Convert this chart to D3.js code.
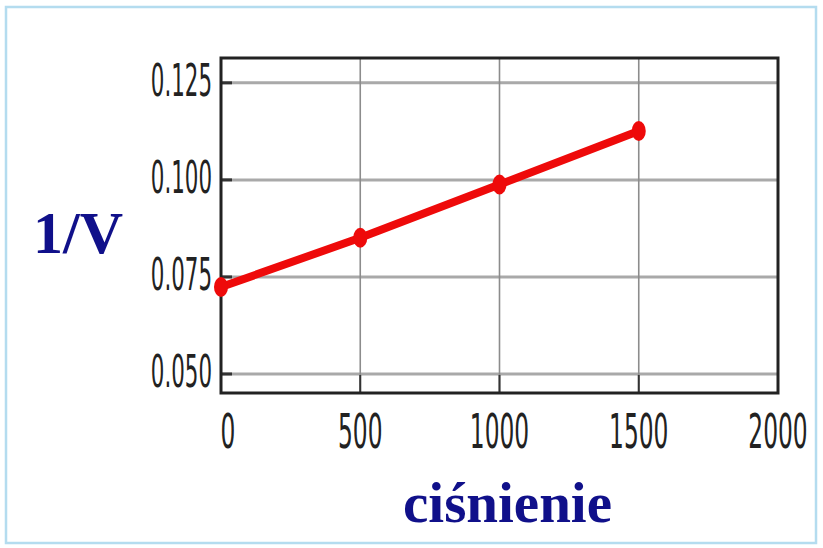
<!DOCTYPE html>
<html>
<head>
<meta charset="utf-8">
<script src="https://cdn.jsdelivr.net/npm/d3@7"></script>
<style>
  html, body { margin: 0; padding: 0; background: #fff; }
  svg { display: block; }
</style>
</head>
<body>
<svg id="chart" width="823" height="548"></svg>
<script>
// data
const pressure = [0, 500, 1000, 1500];
const invVolume = [0.0724, 0.0851, 0.0988, 0.1126];
const xTicks = [0, 500, 1000, 1500, 2000];
const yTicks = [0.050, 0.075, 0.100, 0.125];
const yTickLabels = ["0.050", "0.075", "0.100", "0.125"];

const svg = d3.select("#chart");
const plotL = 221, plotR = 778, plotT = 58, plotB = 393;
const sx = 0.54; // squeeze for the narrow tick font

// outer slide frame
svg.append("rect")
  .attr("x", 6).attr("y", 7)
  .attr("width", 810).attr("height", 536)
  .attr("fill", "#fff")
  .attr("stroke", "#b4dcef")
  .attr("stroke-width", 2.5);

const x = d3.scaleLinear().domain([0, 2000]).range([plotL, plotR]);
const y = d3.scaleLinear().domain([0.0451, 0.1314]).range([plotB, plotT]);

// grid
svg.append("g")
  .selectAll("line")
  .data(yTicks)
  .join("line")
  .attr("x1", plotL).attr("x2", plotR)
  .attr("y1", d => y(d)).attr("y2", d => y(d))
  .attr("stroke", "#a9a9a9")
  .attr("stroke-width", 3);

svg.append("g")
  .selectAll("line")
  .data(xTicks.slice(1, -1))
  .join("line")
  .attr("x1", d => x(d)).attr("x2", d => x(d))
  .attr("y1", plotT).attr("y2", plotB)
  .attr("stroke", "#8c8c8c")
  .attr("stroke-width", 1.6);

// inner ticks
svg.append("g")
  .selectAll("line")
  .data(yTicks)
  .join("line")
  .attr("x1", plotL).attr("x2", plotL + 11)
  .attr("y1", d => y(d)).attr("y2", d => y(d))
  .attr("stroke", "#333")
  .attr("stroke-width", 3);

svg.append("g")
  .selectAll("line")
  .data(xTicks.slice(1, -1))
  .join("line")
  .attr("x1", d => x(d)).attr("x2", d => x(d))
  .attr("y1", plotB - 18).attr("y2", plotB)
  .attr("stroke", "#333")
  .attr("stroke-width", 2);

// frame of the plot
svg.append("rect")
  .attr("x", plotL).attr("y", plotT)
  .attr("width", plotR - plotL).attr("height", plotB - plotT)
  .attr("fill", "none")
  .attr("stroke", "#222")
  .attr("stroke-width", 3);

// axis labels
const yAxis = svg.append("g")
  .attr("transform", `translate(${plotL},0)`)
  .call(d3.axisLeft(y).tickValues(yTicks)
    .tickFormat((d, i) => yTickLabels[i]).tickSize(0));
yAxis.select(".domain").remove();
yAxis.selectAll("text")
  .attr("font-family", "'Liberation Sans Narrow', 'DejaVu Sans Condensed', sans-serif")
  .attr("font-size", 44)
  .attr("fill", "#222")
  .attr("x", -9 / sx)
  .attr("dy", "0.28em")
  .attr("transform", `scale(${sx},1)`);

const xAxis = svg.append("g")
  .attr("transform", `translate(0,${plotB})`)
  .call(d3.axisBottom(x).tickValues(xTicks).tickFormat(d3.format("d")).tickSize(0));
xAxis.select(".domain").remove();
xAxis.selectAll("text")
  .attr("font-family", "'Liberation Sans Narrow', 'DejaVu Sans Condensed', sans-serif")
  .attr("font-size", 48)
  .attr("fill", "#222")
  .attr("y", 21)
  .attr("x", 0)
  .attr("transform", `scale(${sx},1)`);
// the "0" label sits a little right of its tick in the picture
xAxis.selectAll(".tick")
  .attr("transform", d => `translate(${x(d) + (d === 0 ? 7 : 0)},0)`);

// series
const pts = pressure.map((p, i) => [p, invVolume[i]]);
svg.append("path")
  .datum(pts)
  .attr("fill", "none")
  .attr("stroke", "#ee0a0a")
  .attr("stroke-width", 8)
  .attr("d", d3.line().x(d => x(d[0])).y(d => y(d[1])));

svg.append("g")
  .selectAll("ellipse")
  .data(pts)
  .join("ellipse")
  .attr("cx", d => x(d[0]))
  .attr("cy", d => y(d[1]))
  .attr("rx", 7).attr("ry", 10)
  .attr("fill", "#ee0a0a");

// axis titles
svg.append("text")
  .attr("x", 33).attr("y", 253)
  .attr("font-family", "'Liberation Serif', 'DejaVu Serif', serif")
  .attr("font-weight", "bold")
  .attr("font-size", 60)
  .attr("fill", "#10108a")
  .text("1/V");

svg.append("text")
  .attr("x", 403).attr("y", 522)
  .attr("font-family", "'Liberation Serif', 'DejaVu Serif', serif")
  .attr("font-weight", "bold")
  .attr("font-size", 57)
  .attr("fill", "#10108a")
  .text("ciśnienie");
</script>
</body>
</html>
